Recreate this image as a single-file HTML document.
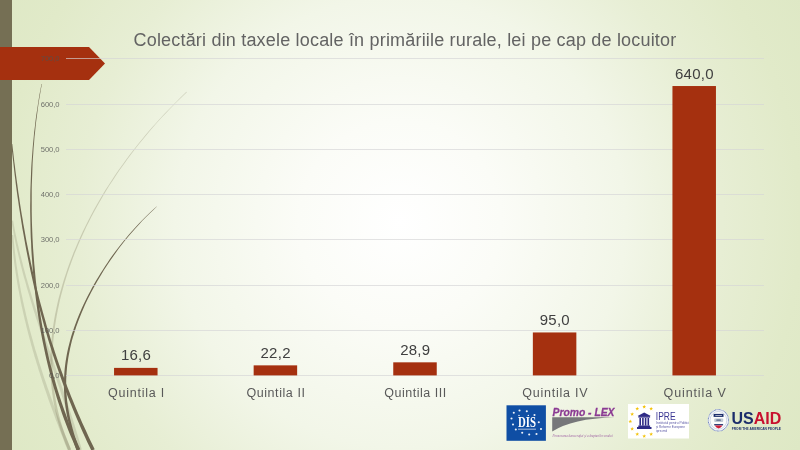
<!DOCTYPE html>
<html><head><meta charset="utf-8"><title>Colectari din taxele locale</title>
<style>
html,body{margin:0;padding:0;}
body{width:800px;height:450px;overflow:hidden;position:relative;font-family:"Liberation Sans",sans-serif;
background:radial-gradient(circle 460px at 400px 222px, #ffffff 0%, #fbfcf7 22%, #f2f6e8 49%, #e7eed4 70%, #e1eac9 87%, #dee8c5 100%);}
.abs{position:absolute;}
#side{left:0;top:0;width:12px;height:450px;background:#756f54;}
#title{left:133.5px;top:27.5px;width:560px;height:24px;font-size:18px;line-height:24px;letter-spacing:0.19px;color:#636363;white-space:nowrap;}
#title span{display:inline-block;transform-origin:0 50%;}
.grid{left:66px;width:698px;height:1px;background:rgba(212,212,214,0.66);}
.yl{left:29.5px;width:30px;text-align:right;font-size:7.6px;line-height:10px;letter-spacing:-0.05px;color:rgba(80,80,80,0.8);}
.bar{background:#a5300f;}
.dl{width:80px;text-align:center;font-size:15px;line-height:16px;letter-spacing:0.25px;padding-left:0.25px;color:#404040;}
.cl{width:120px;text-align:center;font-size:12.5px;line-height:16px;color:#595959;}
</style></head><body>
<div id="root" style="position:absolute;left:0;top:0;width:800px;height:450px;overflow:hidden;will-change:transform;">
<svg class="abs" style="left:0;top:0" width="800" height="450" viewBox="0 0 800 450">
<path d="M11.5,235.1 L11.7,238.2 L12.0,241.3 L12.3,244.4 L12.5,247.6 L12.9,250.7 L13.2,253.8 L13.5,256.9 L13.9,260.1 L14.3,263.2 L14.7,266.3 L15.2,269.4 L15.6,272.5 L16.1,275.7 L16.6,278.8 L17.1,281.9 L17.6,285.0 L18.2,288.2 L18.8,291.3 L19.4,294.4 L20.0,297.5 L20.6,300.7 L21.2,303.8 L21.9,306.9 L22.6,310.0 L23.3,313.2 L24.0,316.3 L24.7,319.4 L25.5,322.5 L26.2,325.7 L27.0,328.8 L27.8,331.9 L28.6,335.0 L29.4,338.2 L30.3,341.3 L31.1,344.4 L32.0,347.5 L32.9,350.7 L33.8,353.8 L34.7,356.9 L35.7,360.0 L36.6,363.2 L37.6,366.3 L38.5,369.4 L39.5,372.5 L40.5,375.7 L41.5,378.8 L42.5,381.9 L43.6,385.0 L44.6,388.2 L45.7,391.3 L46.8,394.4 L47.8,397.5 L48.9,400.7 L50.0,403.8 L51.2,406.9 L52.3,410.0 L53.4,413.1 L54.6,416.3 L55.7,419.4 L56.9,422.5 L58.1,425.6 L59.3,428.8 L60.5,431.9 L61.7,435.0 L62.9,438.1 L64.1,441.3 L65.3,444.4 L66.6,447.5 L67.8,450.6 L71.0,449.4 L69.7,446.3 L68.5,443.1 L67.2,440.0 L66.0,436.9 L64.7,433.8 L63.5,430.7 L62.3,427.6 L61.1,424.5 L59.9,421.4 L58.7,418.3 L57.5,415.2 L56.3,412.1 L55.2,409.0 L54.0,405.9 L52.9,402.7 L51.8,399.6 L50.7,396.5 L49.6,393.4 L48.5,390.3 L47.4,387.2 L46.3,384.1 L45.3,381.0 L44.2,377.9 L43.2,374.8 L42.2,371.7 L41.2,368.6 L40.2,365.5 L39.2,362.4 L38.3,359.2 L37.3,356.1 L36.4,353.0 L35.4,349.9 L34.5,346.8 L33.6,343.7 L32.8,340.6 L31.9,337.5 L31.1,334.4 L30.2,331.3 L29.4,328.2 L28.6,325.1 L27.8,322.0 L27.1,318.8 L26.3,315.7 L25.6,312.6 L24.9,309.5 L24.2,306.4 L23.5,303.3 L22.8,300.2 L22.2,297.1 L21.5,294.0 L20.9,290.9 L20.3,287.8 L19.8,284.7 L19.2,281.6 L18.7,278.5 L18.2,275.3 L17.7,272.2 L17.2,269.1 L16.7,266.0 L16.3,262.9 L15.9,259.8 L15.5,256.7 L15.1,253.6 L14.8,250.5 L14.4,247.4 L14.1,244.3 L13.8,241.2 L13.6,238.0 L13.3,234.9Z" fill="rgba(117,111,84,0.20)"/>
<path d="M11.3,220.9 L11.9,224.2 L12.5,227.5 L13.1,230.8 L13.7,234.2 L14.4,237.5 L15.1,240.8 L15.8,244.2 L16.5,247.5 L17.3,250.8 L18.1,254.2 L18.9,257.5 L19.7,260.8 L20.5,264.2 L21.4,267.5 L22.2,270.8 L23.1,274.2 L24.0,277.5 L25.0,280.8 L25.9,284.1 L26.8,287.5 L27.8,290.8 L28.8,294.1 L29.8,297.5 L30.8,300.8 L31.8,304.1 L32.8,307.5 L33.8,310.8 L34.9,314.1 L35.9,317.4 L37.0,320.8 L38.1,324.1 L39.1,327.4 L40.2,330.8 L41.3,334.1 L42.4,337.4 L43.5,340.8 L44.6,344.1 L45.7,347.4 L46.8,350.7 L47.9,354.1 L49.0,357.4 L50.2,360.7 L51.3,364.0 L52.4,367.4 L53.5,370.7 L54.6,374.0 L55.7,377.4 L56.8,380.7 L57.9,384.0 L59.1,387.3 L60.2,390.7 L61.2,394.0 L62.3,397.3 L63.4,400.6 L64.5,404.0 L65.6,407.3 L66.6,410.6 L67.7,413.9 L68.7,417.2 L69.8,420.6 L70.8,423.9 L71.8,427.2 L72.8,430.5 L73.8,433.9 L74.8,437.2 L75.7,440.5 L76.7,443.8 L77.6,447.1 L78.6,450.5 L81.8,449.5 L80.9,446.2 L79.9,442.9 L78.9,439.6 L78.0,436.2 L76.9,432.9 L75.9,429.6 L74.9,426.3 L73.9,422.9 L72.8,419.6 L71.7,416.3 L70.7,413.0 L69.6,409.6 L68.5,406.3 L67.4,403.0 L66.3,399.7 L65.2,396.4 L64.1,393.0 L63.0,389.7 L61.9,386.4 L60.7,383.1 L59.6,379.7 L58.5,376.4 L57.3,373.1 L56.2,369.8 L55.1,366.5 L53.9,363.1 L52.8,359.8 L51.6,356.5 L50.5,353.2 L49.4,349.9 L48.2,346.6 L47.1,343.2 L46.0,339.9 L44.9,336.6 L43.8,333.3 L42.6,330.0 L41.5,326.6 L40.4,323.3 L39.4,320.0 L38.3,316.7 L37.2,313.4 L36.1,310.1 L35.1,306.7 L34.0,303.4 L33.0,300.1 L32.0,296.8 L31.0,293.5 L30.0,290.2 L29.0,286.8 L28.0,283.5 L27.1,280.2 L26.1,276.9 L25.2,273.6 L24.3,270.3 L23.4,267.0 L22.6,263.6 L21.7,260.3 L20.9,257.0 L20.0,253.7 L19.2,250.4 L18.5,247.1 L17.7,243.8 L17.0,240.4 L16.3,237.1 L15.6,233.8 L14.9,230.5 L14.3,227.2 L13.7,223.9 L13.1,220.5Z" fill="rgba(117,111,84,0.20)"/>
<path d="M186.4,91.8 L181.0,97.0 L175.8,102.2 L170.7,107.4 L165.7,112.6 L160.8,117.8 L156.1,122.9 L151.5,128.1 L147.0,133.3 L142.7,138.5 L138.4,143.7 L134.3,148.9 L130.3,154.0 L126.4,159.2 L122.7,164.4 L119.0,169.6 L115.4,174.8 L112.0,180.0 L108.6,185.2 L105.3,190.3 L102.2,195.5 L99.1,200.7 L96.1,205.9 L93.3,211.1 L90.5,216.3 L87.8,221.5 L85.2,226.7 L82.7,231.8 L80.3,237.0 L78.0,242.2 L75.8,247.4 L73.6,252.6 L71.6,257.8 L69.6,263.0 L67.7,268.2 L66.0,273.4 L64.3,278.6 L62.7,283.8 L61.2,288.9 L59.8,294.1 L58.4,299.3 L57.2,304.5 L56.1,309.7 L55.0,314.9 L54.1,320.1 L53.3,325.3 L52.5,330.5 L51.9,335.8 L51.4,341.0 L50.9,346.2 L50.6,351.4 L50.4,356.6 L50.3,361.8 L50.3,367.0 L50.5,372.2 L50.7,377.4 L51.1,382.7 L51.6,387.9 L52.2,393.1 L53.0,398.3 L53.8,403.5 L54.9,408.8 L56.0,414.0 L57.3,419.2 L58.8,424.4 L60.4,429.7 L62.2,434.9 L64.1,440.1 L66.2,445.4 L68.4,450.6 L71.1,449.4 L68.9,444.2 L66.8,439.1 L64.8,434.0 L63.0,428.8 L61.4,423.7 L59.9,418.5 L58.6,413.4 L57.4,408.2 L56.3,403.1 L55.4,397.9 L54.6,392.8 L53.9,387.6 L53.4,382.4 L53.0,377.3 L52.7,372.1 L52.5,367.0 L52.5,361.8 L52.5,356.6 L52.7,351.5 L53.0,346.3 L53.3,341.1 L53.8,336.0 L54.4,330.8 L55.1,325.6 L55.9,320.4 L56.8,315.3 L57.8,310.1 L58.9,304.9 L60.0,299.7 L61.3,294.6 L62.7,289.4 L64.1,284.2 L65.7,279.0 L67.3,273.8 L69.1,268.6 L70.9,263.5 L72.8,258.3 L74.8,253.1 L76.9,247.9 L79.1,242.7 L81.4,237.5 L83.8,232.3 L86.2,227.1 L88.8,222.0 L91.4,216.8 L94.2,211.6 L97.0,206.4 L100.0,201.2 L103.0,196.0 L106.1,190.8 L109.3,185.6 L112.7,180.4 L116.1,175.2 L119.6,170.0 L123.3,164.9 L127.0,159.7 L130.9,154.5 L134.9,149.3 L139.0,144.1 L143.2,138.9 L147.5,133.7 L151.9,128.5 L156.5,123.3 L161.2,118.1 L166.1,112.9 L171.0,107.7 L176.1,102.6 L181.4,97.4 L186.8,92.2Z" fill="rgba(117,111,84,0.28)"/>
<path d="M41.5,84.0 L40.5,89.3 L39.5,94.6 L38.6,99.9 L37.8,105.2 L37.0,110.5 L36.2,115.8 L35.5,121.1 L34.9,126.4 L34.2,131.7 L33.7,137.0 L33.2,142.3 L32.7,147.6 L32.3,152.9 L31.9,158.2 L31.5,163.5 L31.2,168.8 L31.0,174.1 L30.8,179.5 L30.6,184.8 L30.4,190.1 L30.3,195.4 L30.3,200.7 L30.2,206.0 L30.2,211.3 L30.3,216.6 L30.4,221.9 L30.5,227.2 L30.6,232.6 L30.8,237.9 L31.1,243.2 L31.3,248.5 L31.6,253.8 L32.0,259.1 L32.4,264.4 L32.8,269.7 L33.2,275.1 L33.7,280.4 L34.3,285.7 L34.9,291.0 L35.5,296.3 L36.2,301.6 L36.9,306.9 L37.6,312.3 L38.4,317.6 L39.3,322.9 L40.2,328.2 L41.1,333.5 L42.1,338.9 L43.2,344.2 L44.3,349.5 L45.4,354.8 L46.6,360.1 L47.9,365.5 L49.2,370.8 L50.6,376.1 L52.0,381.4 L53.5,386.8 L55.1,392.1 L56.7,397.4 L58.4,402.8 L60.2,408.1 L62.0,413.4 L63.9,418.7 L65.9,424.1 L68.0,429.4 L70.1,434.7 L72.4,440.1 L74.7,445.4 L77.1,450.7 L80.3,449.3 L77.9,444.0 L75.6,438.7 L73.3,433.4 L71.1,428.2 L69.0,422.9 L67.0,417.6 L65.1,412.3 L63.2,407.0 L61.4,401.8 L59.7,396.5 L58.0,391.2 L56.4,385.9 L54.9,380.6 L53.4,375.4 L52.0,370.1 L50.6,364.8 L49.3,359.5 L48.1,354.2 L46.9,348.9 L45.7,343.6 L44.7,338.4 L43.6,333.1 L42.6,327.8 L41.7,322.5 L40.8,317.2 L40.0,311.9 L39.2,306.6 L38.4,301.3 L37.7,296.0 L37.0,290.7 L36.4,285.4 L35.8,280.2 L35.3,274.9 L34.8,269.6 L34.3,264.3 L33.9,259.0 L33.5,253.7 L33.1,248.4 L32.8,243.1 L32.5,237.8 L32.3,232.5 L32.1,227.2 L31.9,221.9 L31.8,216.6 L31.7,211.3 L31.7,206.0 L31.7,200.7 L31.7,195.4 L31.7,190.1 L31.8,184.8 L32.0,179.5 L32.2,174.2 L32.4,168.9 L32.6,163.6 L32.9,158.3 L33.3,153.0 L33.6,147.7 L34.1,142.4 L34.5,137.1 L35.1,131.8 L35.6,126.5 L36.2,121.2 L36.9,115.9 L37.6,110.6 L38.3,105.3 L39.1,100.0 L40.0,94.7 L40.9,89.3 L41.9,84.0Z" fill="#6f6650"/>
<path d="M11.3,144.1 L11.7,148.5 L12.2,152.9 L12.7,157.4 L13.2,161.8 L13.7,166.2 L14.2,170.7 L14.7,175.1 L15.3,179.6 L15.8,184.0 L16.4,188.4 L17.0,192.9 L17.6,197.3 L18.3,201.8 L18.9,206.2 L19.6,210.6 L20.3,215.1 L21.0,219.5 L21.7,224.0 L22.4,228.4 L23.2,232.8 L24.0,237.3 L24.8,241.7 L25.6,246.2 L26.4,250.6 L27.3,255.1 L28.2,259.5 L29.1,263.9 L30.0,268.4 L30.9,272.8 L31.9,277.3 L32.9,281.7 L33.9,286.2 L35.0,290.6 L36.0,295.1 L37.1,299.5 L38.2,303.9 L39.4,308.4 L40.6,312.8 L41.8,317.3 L43.0,321.7 L44.2,326.2 L45.5,330.6 L46.8,335.1 L48.1,339.5 L49.5,344.0 L50.9,348.4 L52.3,352.9 L53.7,357.3 L55.2,361.8 L56.7,366.2 L58.3,370.7 L59.8,375.1 L61.4,379.6 L63.0,384.0 L64.7,388.5 L66.4,392.9 L68.1,397.4 L69.9,401.8 L71.7,406.3 L73.5,410.7 L75.4,415.2 L77.2,419.6 L79.2,424.1 L81.1,428.5 L83.1,433.0 L85.2,437.4 L87.2,441.9 L89.3,446.3 L91.5,450.8 L94.7,449.2 L92.5,444.8 L90.4,440.4 L88.3,436.0 L86.3,431.5 L84.2,427.1 L82.2,422.7 L80.3,418.3 L78.4,413.9 L76.5,409.5 L74.6,405.0 L72.8,400.6 L71.0,396.2 L69.3,391.8 L67.6,387.4 L65.9,383.0 L64.2,378.5 L62.6,374.1 L61.0,369.7 L59.4,365.3 L57.9,360.9 L56.4,356.4 L54.9,352.0 L53.5,347.6 L52.0,343.2 L50.6,338.7 L49.3,334.3 L47.9,329.9 L46.6,325.5 L45.4,321.1 L44.1,316.6 L42.9,312.2 L41.7,307.8 L40.5,303.4 L39.3,298.9 L38.2,294.5 L37.1,290.1 L36.0,285.7 L35.0,281.2 L34.0,276.8 L33.0,272.4 L32.0,268.0 L31.0,263.5 L30.1,259.1 L29.2,254.7 L28.3,250.3 L27.4,245.8 L26.5,241.4 L25.7,237.0 L24.9,232.5 L24.1,228.1 L23.3,223.7 L22.6,219.3 L21.8,214.8 L21.1,210.4 L20.4,206.0 L19.7,201.5 L19.1,197.1 L18.4,192.7 L17.8,188.3 L17.2,183.8 L16.6,179.4 L16.0,175.0 L15.4,170.5 L14.9,166.1 L14.3,161.7 L13.8,157.2 L13.3,152.8 L12.8,148.4 L12.3,143.9Z" fill="#6f6650"/>
<path d="M156.6,206.4 L152.7,209.9 L149.0,213.4 L145.4,216.9 L141.9,220.4 L138.5,223.9 L135.3,227.4 L132.1,231.0 L129.0,234.5 L126.1,238.0 L123.2,241.5 L120.4,245.0 L117.7,248.6 L115.0,252.1 L112.4,255.6 L109.9,259.1 L107.5,262.7 L105.1,266.2 L102.9,269.7 L100.6,273.2 L98.5,276.8 L96.3,280.3 L94.3,283.8 L92.3,287.3 L90.4,290.9 L88.5,294.4 L86.7,297.9 L85.0,301.5 L83.3,305.0 L81.7,308.5 L80.2,312.1 L78.7,315.6 L77.3,319.1 L75.9,322.7 L74.6,326.2 L73.4,329.7 L72.2,333.3 L71.1,336.8 L70.1,340.4 L69.2,343.9 L68.3,347.4 L67.5,351.0 L66.8,354.5 L66.2,358.1 L65.6,361.6 L65.1,365.2 L64.7,368.7 L64.4,372.3 L64.2,375.8 L64.0,379.4 L63.9,382.9 L63.9,386.5 L64.0,390.1 L64.2,393.6 L64.4,397.2 L64.7,400.7 L65.1,404.3 L65.6,407.8 L66.2,411.4 L66.8,415.0 L67.5,418.5 L68.3,422.1 L69.1,425.6 L70.0,429.2 L71.0,432.7 L72.0,436.3 L73.0,439.8 L74.2,443.4 L75.3,446.9 L76.5,450.5 L79.3,449.5 L78.0,446.0 L76.9,442.5 L75.7,439.0 L74.6,435.5 L73.6,432.0 L72.6,428.5 L71.7,425.0 L70.8,421.5 L70.0,418.0 L69.3,414.5 L68.7,411.0 L68.1,407.5 L67.6,404.0 L67.1,400.5 L66.8,397.0 L66.5,393.5 L66.3,390.0 L66.2,386.5 L66.2,383.0 L66.2,379.5 L66.4,375.9 L66.6,372.4 L66.9,368.9 L67.2,365.4 L67.7,361.9 L68.2,358.4 L68.8,354.9 L69.5,351.4 L70.2,347.9 L71.0,344.4 L71.9,340.8 L72.9,337.3 L74.0,333.8 L75.1,330.3 L76.2,326.8 L77.5,323.3 L78.8,319.7 L80.2,316.2 L81.6,312.7 L83.1,309.2 L84.7,305.6 L86.3,302.1 L88.0,298.6 L89.8,295.0 L91.6,291.5 L93.5,288.0 L95.4,284.5 L97.4,280.9 L99.5,277.4 L101.6,273.9 L103.8,270.3 L106.1,266.8 L108.4,263.3 L110.8,259.7 L113.3,256.2 L115.8,252.7 L118.4,249.1 L121.1,245.6 L123.8,242.1 L126.7,238.5 L129.6,235.0 L132.7,231.4 L135.8,227.9 L139.0,224.4 L142.3,220.8 L145.8,217.3 L149.4,213.7 L153.1,210.2 L156.9,206.6Z" fill="#6f6650"/>

</svg>
<div id="side" class="abs"></div>
<svg class="abs" style="left:0;top:0" width="120" height="100" viewBox="0 0 120 100"><polygon points="0,47 89,47 105,63.5 89,80 0,80" fill="#a5300f"/></svg>
<div id="title" class="abs"><span id="tt">Colectări din taxele locale în primăriile rurale, lei pe cap de locuitor</span></div>
<div class="abs grid" style="top:375px"></div>
<div class="abs yl" style="top:370.5px">0,0</div>
<div class="abs grid" style="top:330px"></div>
<div class="abs yl" style="top:325.5px">100,0</div>
<div class="abs grid" style="top:285px"></div>
<div class="abs yl" style="top:280.5px">200,0</div>
<div class="abs grid" style="top:239px"></div>
<div class="abs yl" style="top:234.5px">300,0</div>
<div class="abs grid" style="top:194px"></div>
<div class="abs yl" style="top:189.5px">400,0</div>
<div class="abs grid" style="top:149px"></div>
<div class="abs yl" style="top:144.5px">500,0</div>
<div class="abs grid" style="top:104px"></div>
<div class="abs yl" style="top:99.5px">600,0</div>
<div class="abs grid" style="top:58px"></div>
<div class="abs yl" style="top:53.5px">700,0</div>
<div class="abs dl" style="left:95.8px;top:347.4px">16,6</div>
<div class="abs cl" style="left:75.8px;top:384.5px;letter-spacing:0.76px;padding-left:0.76px">Quintila I</div>
<div class="abs dl" style="left:235.4px;top:344.9px">22,2</div>
<div class="abs cl" style="left:215.4px;top:384.5px;letter-spacing:0.57px;padding-left:0.57px">Quintila II</div>
<div class="abs dl" style="left:375.0px;top:341.8px">28,9</div>
<div class="abs cl" style="left:355.0px;top:384.5px;letter-spacing:0.515px;padding-left:0.515px">Quintila III</div>
<div class="abs dl" style="left:514.6px;top:311.9px">95,0</div>
<div class="abs cl" style="left:494.6px;top:384.5px;letter-spacing:0.77px;padding-left:0.77px">Quintila IV</div>
<div class="abs dl" style="left:654.2px;top:65.5px">640,0</div>
<div class="abs cl" style="left:634.2px;top:384.5px;letter-spacing:0.89px;padding-left:0.89px">Quintila V</div>
<svg class="abs" style="left:0;top:0" width="800" height="450" viewBox="0 0 800 450"><rect x="114.05" y="367.89" width="43.5" height="7.51" fill="#a5300f"/><rect x="253.65" y="365.36" width="43.5" height="10.04" fill="#a5300f"/><rect x="393.25" y="362.33" width="43.5" height="13.07" fill="#a5300f"/><rect x="532.85" y="332.45" width="43.5" height="42.95" fill="#a5300f"/><rect x="672.45" y="86.03" width="43.5" height="289.37" fill="#a5300f"/></svg>
<svg class="abs" style="left:0;top:0" width="800" height="450" viewBox="0 0 800 450">
<rect x="506.5" y="405.3" width="39.4" height="35.5" fill="#0f4ea4"/>
<circle cx="519.5" cy="410.5" r="1.05" fill="#fff" fill-opacity="0.92"/>
<circle cx="526.8" cy="411.2" r="1.05" fill="#fff" fill-opacity="0.92"/>
<circle cx="534.5" cy="415.0" r="1.05" fill="#fff" fill-opacity="0.92"/>
<circle cx="538.8" cy="422.2" r="1.05" fill="#fff" fill-opacity="0.92"/>
<circle cx="541.0" cy="429.0" r="1.05" fill="#fff" fill-opacity="0.92"/>
<circle cx="536.5" cy="434.0" r="1.05" fill="#fff" fill-opacity="0.92"/>
<circle cx="529.2" cy="434.5" r="1.05" fill="#fff" fill-opacity="0.92"/>
<circle cx="522.2" cy="432.8" r="1.05" fill="#fff" fill-opacity="0.92"/>
<circle cx="515.8" cy="429.5" r="1.05" fill="#fff" fill-opacity="0.92"/>
<circle cx="513.0" cy="424.5" r="1.05" fill="#fff" fill-opacity="0.92"/>
<circle cx="511.5" cy="418.5" r="1.05" fill="#fff" fill-opacity="0.92"/>
<circle cx="513.8" cy="412.8" r="1.05" fill="#fff" fill-opacity="0.92"/>
<text x="527" y="427" font-family="Liberation Serif" font-weight="bold" font-size="14" fill="#fff" text-anchor="middle" textLength="18" lengthAdjust="spacingAndGlyphs">DIS</text>
<circle cx="519" cy="415.4" r="0.7" fill="#fff"/><circle cx="528.3" cy="415.4" r="0.7" fill="#fff"/>
<rect x="518" y="428.6" width="18" height="1.2" fill="#fff" fill-opacity="0.55"/>
<text x="552.5" y="416" font-family="Liberation Sans" font-weight="bold" font-style="italic" font-size="11.8" fill="#8b3a93" stroke="#8b3a93" stroke-width="0.3" textLength="62" lengthAdjust="spacingAndGlyphs">Promo - LEX</text>
<path d="M552.2,417.3 L614.8,417.3 Q572,418.6 552.2,431.6 Z" fill="#77777a"/>
<text x="552.5" y="437" font-family="Liberation Serif" font-style="italic" font-size="3.4" fill="#8b3a93" fill-opacity="0.8" textLength="60" lengthAdjust="spacingAndGlyphs">Promovarea democraţiei şi a drepturilor omului</text>
<rect x="628" y="404" width="61" height="34.5" fill="#ffffff"/>
<polygon points="644.20,404.80 644.69,406.12 646.10,406.18 645.00,407.06 645.38,408.42 644.20,407.64 643.02,408.42 643.40,407.06 642.30,406.18 643.71,406.12" fill="#f3c30b"/>
<polygon points="651.15,406.77 651.64,408.09 653.05,408.15 651.95,409.03 652.33,410.39 651.15,409.61 649.97,410.39 650.35,409.03 649.25,408.15 650.66,408.09" fill="#f3c30b"/>
<polygon points="637.25,406.77 637.74,408.09 639.15,408.15 638.05,409.03 638.43,410.39 637.25,409.61 636.07,410.39 636.45,409.03 635.35,408.15 636.76,408.09" fill="#f3c30b"/>
<polygon points="632.16,412.15 632.66,413.47 634.06,413.53 632.96,414.41 633.34,415.77 632.16,414.99 630.99,415.77 631.36,414.41 630.26,413.53 631.67,413.47" fill="#f3c30b"/>
<polygon points="630.30,419.50 630.79,420.82 632.20,420.88 631.10,421.76 631.48,423.12 630.30,422.34 629.12,423.12 629.50,421.76 628.40,420.88 629.81,420.82" fill="#f3c30b"/>
<polygon points="632.16,426.85 632.66,428.17 634.06,428.23 632.96,429.11 633.34,430.47 632.16,429.69 630.99,430.47 631.36,429.11 630.26,428.23 631.67,428.17" fill="#f3c30b"/>
<polygon points="637.25,432.23 637.74,433.55 639.15,433.61 638.05,434.49 638.43,435.85 637.25,435.07 636.07,435.85 636.45,434.49 635.35,433.61 636.76,433.55" fill="#f3c30b"/>
<polygon points="644.20,434.20 644.69,435.52 646.10,435.58 645.00,436.46 645.38,437.82 644.20,437.04 643.02,437.82 643.40,436.46 642.30,435.58 643.71,435.52" fill="#f3c30b"/>
<polygon points="651.15,432.23 651.64,433.55 653.05,433.61 651.95,434.49 652.33,435.85 651.15,435.07 649.97,435.85 650.35,434.49 649.25,433.61 650.66,433.55" fill="#f3c30b"/>
<polygon points="644.2,412.4 650.8,416.1 637.6,416.1" fill="#2f2b86"/>
<rect x="638.3" y="416.1" width="11.8" height="1.5" fill="#2f2b86"/>
<rect x="639.4" y="418" width="1.6" height="7.6" fill="#2f2b86"/>
<rect x="642.1" y="418" width="1.6" height="7.6" fill="#2f2b86"/>
<rect x="644.8" y="418" width="1.6" height="7.6" fill="#2f2b86"/>
<rect x="647.5" y="418" width="1.6" height="7.6" fill="#2f2b86"/>
<rect x="638.3" y="425.5" width="11.8" height="1.6" fill="#2f2b86"/>
<rect x="637" y="427" width="14.5" height="2" fill="#2f2b86"/>
<text x="655.8" y="419.5" font-family="Liberation Sans" font-size="11.4" fill="#3a3693" textLength="19.8" lengthAdjust="spacingAndGlyphs">IPRE</text>
<text x="656" y="423.9" font-family="Liberation Sans" font-size="3.5" fill="#3a3693" fill-opacity="0.85" textLength="33" lengthAdjust="spacingAndGlyphs">Institutul pentru Politici</text>
<text x="656" y="427.8" font-family="Liberation Sans" font-size="3.5" fill="#3a3693" fill-opacity="0.85" textLength="29" lengthAdjust="spacingAndGlyphs">şi Reforme Europene</text>
<text x="656" y="431.6" font-family="Liberation Sans" font-size="3.5" fill="#3a3693" fill-opacity="0.85" textLength="11" lengthAdjust="spacingAndGlyphs">ipre.md</text>
<ellipse cx="718.4" cy="420.3" rx="10.7" ry="11.3" fill="#fbfcfb"/>
<ellipse cx="718.4" cy="420.3" rx="10.1" ry="10.7" fill="none" stroke="#3d5aa3" stroke-width="1.1" stroke-dasharray="0.8 0.5" stroke-opacity="0.75"/>
<ellipse cx="718.4" cy="420.3" rx="8.4" ry="8.9" fill="none" stroke="#5a73b0" stroke-width="0.5" stroke-opacity="0.55"/>
<rect x="713.6" y="413.9" width="9.9" height="3.0" fill="#1b2d6b"/>
<rect x="715.3" y="415.1" width="6.6" height="0.7" fill="#fff" fill-opacity="0.85"/>
<rect x="714.2" y="418.5" width="9" height="3.5" rx="1" fill="#8d9ab3" fill-opacity="0.55"/>
<rect x="716.2" y="419.3" width="4.8" height="1.7" rx="0.8" fill="#4f6288" fill-opacity="0.7"/>
<rect x="714.2" y="424.0" width="8.9" height="1.4" fill="#1b2d6b" fill-opacity="0.9"/>
<path d="M714.8,425.4 h7.6 q-0.8,2.2 -3.8,3 q-3,-0.8 -3.8,-3 Z" fill="#d11f3a"/>
<text x="731.4" y="424.3" font-family="Liberation Sans" font-weight="bold" font-size="16.3" textLength="49.8" lengthAdjust="spacingAndGlyphs"><tspan fill="#1b2d6b">US</tspan><tspan fill="#c8102e">AID</tspan></text>
<text x="731.8" y="430.2" font-family="Liberation Sans" font-weight="bold" font-size="3.7" fill="#1b2d6b" textLength="49.2" lengthAdjust="spacingAndGlyphs">FROM THE AMERICAN PEOPLE</text>
</svg>
</div>
</body></html>
